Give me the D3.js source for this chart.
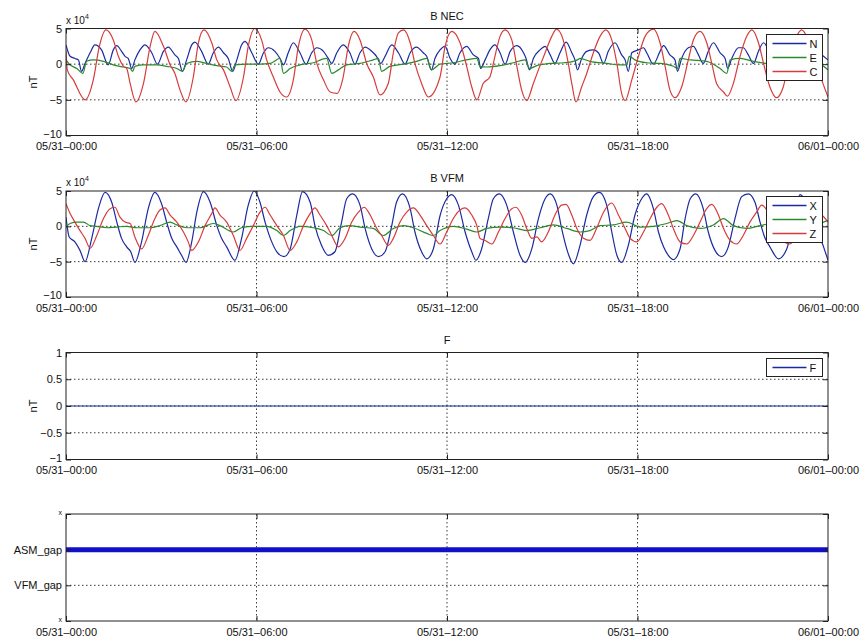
<!DOCTYPE html>
<html><head><meta charset="utf-8">
<script src="https://cdn.jsdelivr.net/npm/d3@7"></script>
<style>
body{margin:0;background:#fff}
svg text{font-family:"Liberation Sans",Arial,Helvetica,sans-serif;fill:#111}
</style></head><body>
<svg id="chart" width="864" height="639"></svg>
<script>
// Time axis: hours since 05/31 00:00
const timeTicks = [0, 6, 12, 18, 24];
const timeTickLabels = ["05/31\u201300:00", "05/31\u201306:00", "05/31\u201312:00", "05/31\u201318:00", "06/01\u201300:00"];

// Field axes (values in units of 10^4 nT)
const fieldTicks = [-10, -5, 0, 5];
const fieldTickLabels = ["\u221210", "\u22125", "0", "5"];
const fTicks = [-1, -0.5, 0, 0.5, 1];
const fTickLabels = ["\u22121", "\u22120.5", "0", "0.5", "1"];
const gapTicks = [0, 1, 2, 3];
const gapTickLabels = ["x", "VFM_gap", "ASM_gap", "x"];

const necNames = ["N", "E", "C"];
const vfmNames = ["X", "Y", "Z"];
const fNames = ["F"];

// B NEC, [hour, value x1e4 nT]
const necN = [[0,2.7],[0.13,1.1],[0.28,0.8],[0.39,0.6],[0.49,-1.0],[0.6,0.1],[0.76,1.6],[0.91,2.7],[1.12,2.0],[1.33,-0.1],[1.49,2.0],[1.6,2.6],[1.75,1.8],[1.86,1.1],[1.96,0.8],[2.07,-0.6],[2.17,0.6],[2.33,2.0],[2.49,2.7],[2.7,1.6],[2.88,0.0],[3.07,1.8],[3.22,2.4],[3.43,1.3],[3.54,0.8],[3.67,-1.0],[3.8,0.6],[3.96,2.7],[4.06,3.1],[4.27,1.8],[4.48,0.0],[4.64,1.6],[4.8,2.4],[4.96,1.6],[5.11,0.8],[5.25,-1.0],[5.38,0.6],[5.53,2.7],[5.64,3.2],[5.85,1.6],[6.06,0.0],[6.22,1.6],[6.37,2.3],[6.58,1.8],[6.74,0.8],[6.85,-0.1],[7.0,1.6],[7.16,3.0],[7.37,1.6],[7.56,0.0],[7.74,1.6],[7.9,2.3],[8.11,1.8],[8.26,0.8],[8.37,0.1],[8.53,1.6],[8.73,2.7],[8.94,1.6],[9.1,0.0],[9.26,1.6],[9.42,2.4],[9.63,1.8],[9.78,1.1],[9.91,0.1],[10.05,1.1],[10.26,2.7],[10.47,1.6],[10.68,0.0],[10.84,1.6],[11.04,2.4],[11.25,1.6],[11.36,1.1],[11.51,-0.8],[11.62,0.8],[11.78,2.0],[11.94,2.5],[12.1,0.8],[12.25,0.0],[12.41,1.6],[12.62,2.5],[12.83,1.3],[12.99,0.8],[13.06,-0.6],[13.2,0.6],[13.35,2.0],[13.51,2.7],[13.67,1.6],[13.83,0.0],[13.99,1.8],[14.2,2.6],[14.41,1.6],[14.49,0.8],[14.6,-0.8],[14.72,0.8],[14.93,2.0],[15.09,2.5],[15.25,1.3],[15.4,0.1],[15.56,1.6],[15.75,3.1],[15.93,1.6],[16.03,0.6],[16.11,-0.8],[16.24,0.8],[16.4,1.8],[16.61,2.0],[16.77,1.6],[16.93,0.1],[17.08,1.8],[17.29,3.0],[17.5,1.3],[17.61,0.6],[17.71,-1.0],[17.82,1.6],[18.03,2.0],[18.19,2.3],[18.29,1.6],[18.5,0.0],[18.71,1.8],[18.82,2.6],[19.02,1.3],[19.18,0.6],[19.26,-1.0],[19.39,0.8],[19.6,2.3],[19.76,2.5],[19.92,1.3],[20.07,0.1],[20.23,1.8],[20.39,3.0],[20.6,1.6],[20.76,0.8],[20.84,-0.6],[20.97,0.8],[21.18,2.3],[21.33,2.3],[21.49,1.3],[21.65,0.1],[21.81,1.8],[21.97,3.0],[22.17,1.6],[22.38,0.0],[22.59,1.8],[22.75,2.7],[22.96,1.3],[23.07,0.8],[23.17,-0.8],[23.33,1.1],[23.49,2.3],[23.65,2.0],[23.86,1.1],[24,0.6]];
const necE = [[0,0.6],[0.13,-0.1],[0.34,-0.6],[0.53,-1.3],[0.65,0.4],[0.86,0.6],[1.18,0.4],[1.49,-0.1],[1.81,-0.4],[2.02,-0.6],[2.1,-1.0],[2.17,-0.3],[2.44,-0.1],[2.86,-0.1],[3.17,-0.3],[3.49,-0.6],[3.67,-1.0],[3.8,0.1],[4.12,0.4],[4.43,0.1],[4.75,-0.2],[5.06,-0.4],[5.22,-1.0],[5.32,-0.1],[5.69,0.0],[6.11,0.0],[6.43,0.1],[6.74,0.8],[6.85,-1.3],[7.06,-0.6],[7.37,-0.1],[7.79,0.2],[8.21,0.8],[8.37,-1.3],[8.58,-0.8],[8.84,-0.1],[9.26,0.1],[9.68,0.6],[9.84,0.8],[9.94,-1.0],[10.2,-0.3],[10.63,0.0],[11.04,0.4],[11.36,0.8],[11.51,-0.8],[11.78,0.0],[12.2,0.2],[12.62,0.6],[12.94,0.8],[13.04,-0.3],[13.25,-0.4],[13.67,-0.2],[14.09,0.2],[14.46,0.6],[14.6,-0.6],[14.83,-0.2],[15.25,0.1],[15.67,0.2],[15.98,0.4],[16.11,0.6],[16.19,0.8],[16.5,0.4],[17.03,0.1],[17.45,-0.1],[17.66,-0.1],[17.74,1.1],[17.92,0.6],[18.29,0.2],[18.71,0.1],[19.13,-0.3],[19.26,-0.6],[19.34,0.8],[19.66,0.6],[20.18,0.4],[20.6,-0.6],[20.81,-1.3],[20.92,0.6],[21.23,0.8],[21.65,0.4],[22.02,0.1],[22.38,-0.2],[22.8,0.0],[23.22,0.4],[23.54,0.6],[23.86,-0.3],[24,-0.8]];
const necC = [[0,1.8],[0.04,-0.8],[0.23,-2.2],[0.6,-5.0],[0.86,-2.2],[1.05,2.5],[1.26,4.8],[1.49,3.4],[1.65,1.1],[1.81,-0.3],[1.91,-0.6],[2.02,-2.7],[2.2,-5.3],[2.44,-2.7],[2.65,2.5],[2.8,4.6],[3.07,2.5],[3.28,-0.1],[3.43,-1.3],[3.59,-3.6],[3.78,-5.3],[4.01,-1.8],[4.17,3.0],[4.35,4.8],[4.59,3.0],[4.75,0.6],[4.96,-0.8],[5.17,-3.2],[5.35,-5.1],[5.59,-1.8],[5.74,2.5],[5.95,5.0],[6.16,3.4],[6.32,0.6],[6.53,-1.8],[6.74,-3.9],[6.95,-4.6],[7.16,-2.2],[7.32,2.5],[7.53,4.9],[7.74,3.4],[7.9,0.1],[8.11,-2.2],[8.32,-3.9],[8.53,-4.1],[8.73,-1.8],[8.89,2.5],[9.07,4.6],[9.26,3.4],[9.47,0.1],[9.68,-1.8],[9.89,-4.3],[10.15,-2.7],[10.31,1.6],[10.47,4.4],[10.63,4.8],[10.84,3.0],[10.99,0.1],[11.2,-2.7],[11.41,-4.6],[11.78,-1.8],[11.94,2.5],[12.15,4.6],[12.41,3.0],[12.62,-0.3],[12.78,-3.2],[12.94,-5.0],[13.14,-2.7],[13.35,-1.8],[13.51,1.1],[13.67,3.9],[13.83,4.8],[14.04,3.4],[14.2,-0.3],[14.35,-3.6],[14.51,-5.1],[14.72,-2.7],[14.88,-0.8],[15.09,1.6],[15.3,3.9],[15.45,4.9],[15.66,3.4],[15.82,0.1],[15.93,-2.7],[16.06,-5.3],[16.24,-3.2],[16.4,-1.3],[16.61,1.6],[16.82,3.9],[17.0,4.8],[17.19,3.4],[17.35,0.1],[17.5,-4.1],[17.61,-5.1],[17.82,-2.2],[18.03,1.1],[18.24,3.9],[18.5,4.9],[18.71,3.0],[18.87,-0.3],[19.02,-3.6],[19.18,-4.7],[19.39,-3.2],[19.6,0.6],[19.76,3.4],[19.97,4.6],[20.18,3.0],[20.34,0.1],[20.49,-2.7],[20.71,-3.9],[20.83,-4.5],[21.02,-2.7],[21.23,1.1],[21.44,3.9],[21.6,4.8],[21.81,3.0],[21.97,0.1],[22.17,-3.2],[22.38,-4.7],[22.59,-3.2],[22.8,1.1],[23.01,3.9],[23.17,4.8],[23.38,3.4],[23.59,0.6],[23.8,-2.2],[24,-4.6]];

// B VFM, [hour, value x1e4 nT]
const vfmX = [[0,1.3],[0.1,-1.5],[0.28,-2.2],[0.44,-3.4],[0.6,-5.0],[0.81,-1.7],[1.02,2.5],[1.23,4.8],[1.44,3.4],[1.6,0.6],[1.75,-1.7],[1.91,-2.9],[2.04,-3.6],[2.17,-5.1],[2.38,-2.2],[2.59,2.5],[2.8,4.8],[3.01,3.2],[3.17,0.6],[3.33,-1.7],[3.49,-2.9],[3.64,-4.1],[3.78,-5.1],[3.96,-2.2],[4.12,2.0],[4.33,4.9],[4.54,3.4],[4.75,0.1],[4.9,-1.7],[5.06,-2.9],[5.32,-4.8],[5.53,-1.7],[5.74,3.0],[5.93,5.0],[6.11,3.4],[6.27,0.6],[6.48,-2.2],[6.64,-3.6],[6.87,-4.3],[7.06,-3.2],[7.27,1.6],[7.45,4.9],[7.69,3.4],[7.84,0.1],[8.05,-2.7],[8.26,-4.1],[8.47,-3.6],[8.68,0.6],[8.84,3.9],[9.03,4.6],[9.26,3.0],[9.42,-0.3],[9.63,-3.2],[9.84,-4.3],[10.05,-3.6],[10.26,0.1],[10.41,3.4],[10.6,4.6],[10.84,2.5],[10.99,-0.8],[11.2,-3.6],[11.36,-4.6],[11.57,-3.2],[11.78,1.5],[11.99,3.9],[12.15,4.5],[12.36,3.0],[12.57,-0.8],[12.78,-3.6],[12.91,-4.8],[13.09,-3.2],[13.3,1.1],[13.46,3.9],[13.65,4.6],[13.88,3.0],[14.09,-0.8],[14.3,-4.1],[14.46,-5.1],[14.67,-3.2],[14.88,1.1],[15.09,3.9],[15.25,4.6],[15.46,3.0],[15.61,-0.3],[15.82,-3.9],[15.98,-5.3],[16.19,-2.7],[16.4,1.6],[16.61,4.2],[16.8,4.8],[17.03,3.0],[17.19,-0.8],[17.35,-4.1],[17.5,-5.1],[17.71,-2.7],[17.92,1.6],[18.13,3.9],[18.29,4.6],[18.5,2.5],[18.66,-0.8],[18.82,-2.9],[18.97,-4.1],[19.13,-4.7],[19.34,-3.2],[19.5,1.1],[19.66,3.9],[19.84,4.6],[20.07,2.5],[20.23,-0.8],[20.44,-3.4],[20.65,-4.3],[20.86,-2.9],[21.07,1.1],[21.28,4.2],[21.49,4.6],[21.7,3.4],[21.86,0.6],[22.02,-1.7],[22.17,-2.9],[22.44,-4.6],[22.7,-3.2],[22.91,0.6],[23.12,4.5],[23.33,3.4],[23.65,-0.3],[23.86,-2.9],[24,-4.8]];
const vfmY = [[0,-0.1],[0.13,0.4],[0.34,0.6],[0.55,0.6],[0.76,0.1],[0.97,0.0],[1.28,-0.2],[1.6,-0.1],[1.91,0.0],[2.23,-0.2],[2.65,-0.2],[2.96,0.1],[3.28,0.6],[3.49,0.2],[3.8,-0.2],[4.22,-0.2],[4.64,0.4],[4.85,0.1],[5.27,-0.8],[5.53,-0.2],[5.9,0.0],[6.32,0.0],[6.64,-0.6],[6.85,-1.3],[7.06,-0.6],[7.37,0.0],[7.79,-0.2],[8.11,-0.6],[8.37,-1.3],[8.63,-0.2],[8.94,0.1],[9.26,-0.1],[9.68,-0.3],[9.99,-1.3],[10.31,-0.3],[10.63,0.1],[10.94,-0.2],[11.36,-1.0],[11.57,-1.3],[11.78,-0.6],[12.2,0.0],[12.62,-0.4],[12.94,-0.8],[13.25,-0.3],[13.67,-0.1],[14.09,-0.2],[14.51,-0.6],[14.93,-0.2],[15.35,0.2],[15.77,-0.3],[16.19,-0.8],[16.5,-0.6],[16.82,0.1],[17.24,0.2],[17.66,0.6],[18.08,-0.1],[18.5,0.0],[18.92,0.4],[19.24,0.8],[19.55,0.1],[19.97,-0.3],[20.39,0.2],[20.71,1.1],[21.02,0.1],[21.44,-0.3],[21.86,0.1],[22.28,0.4],[22.8,-0.1],[23.33,0.1],[23.86,0.6],[24,0.8]];
const vfmZ = [[0,3.2],[0.13,1.8],[0.28,0.6],[0.44,-0.6],[0.6,-1.7],[0.76,-3.1],[0.97,-1.3],[1.18,1.1],[1.39,2.5],[1.54,2.7],[1.7,1.3],[1.86,0.6],[2.02,0.4],[2.17,-1.5],[2.38,-3.2],[2.59,-1.3],[2.8,1.1],[2.96,2.3],[3.12,2.6],[3.28,1.6],[3.49,0.6],[3.7,-0.8],[3.85,-2.2],[3.96,-3.4],[4.17,-2.2],[4.38,0.1],[4.59,1.8],[4.69,2.6],[4.85,1.6],[5.06,0.6],[5.27,-1.3],[5.48,-3.4],[5.69,-1.7],[5.9,0.1],[6.11,2.0],[6.27,2.7],[6.43,1.6],[6.64,0.1],[6.85,-1.3],[7.06,-3.4],[7.27,-2.2],[7.48,0.1],[7.69,1.8],[7.84,2.6],[8.0,1.6],[8.21,0.1],[8.37,-1.3],[8.58,-2.9],[8.79,-1.7],[9.0,0.6],[9.21,2.0],[9.39,2.7],[9.58,1.6],[9.79,-0.3],[9.94,-1.3],[10.15,-2.7],[10.31,-1.7],[10.52,0.6],[10.73,2.0],[10.94,2.6],[11.15,1.6],[11.36,0.1],[11.57,-1.3],[11.78,-2.5],[11.99,-0.8],[12.2,1.1],[12.41,2.3],[12.57,2.6],[12.78,1.6],[12.94,0.1],[13.04,-1.7],[13.2,-2.0],[13.41,-2.5],[13.62,-0.8],[13.83,1.1],[14.04,2.5],[14.17,2.7],[14.35,1.6],[14.51,-0.3],[14.67,-1.7],[14.83,-1.5],[14.98,-2.2],[15.19,-0.8],[15.4,1.6],[15.61,3.0],[15.75,3.1],[15.93,1.6],[16.09,-0.3],[16.3,-1.7],[16.5,-2.0],[16.71,-0.3],[16.93,2.0],[17.19,3.3],[17.4,1.6],[17.61,-0.3],[17.77,-1.7],[17.98,-2.2],[18.19,-0.8],[18.4,1.1],[18.61,2.7],[18.76,3.2],[18.97,1.6],[19.13,-0.3],[19.34,-2.2],[19.55,-2.5],[19.76,-1.3],[19.97,0.6],[20.18,2.5],[20.34,3.1],[20.55,1.6],[20.71,-0.3],[20.92,-2.0],[21.12,-2.5],[21.33,-1.3],[21.54,0.6],[21.75,2.0],[21.91,3.0],[22.12,2.0],[22.33,0.1],[22.59,-2.0],[22.8,-2.5],[23.07,-0.8],[23.33,1.1],[23.54,2.0],[23.8,1.6],[24,0.6]];

// F residual and gap flags
const fSeries = [[0, 0], [24, 0]];
const asmGapSpan = [[0, 2], [24, 2]];

const lineColors = ["#1b2aa0", "#2a8a2a", "#d63c3c"];

const svg = d3.select("#chart");
const x = d3.scaleLinear().domain([0, 24]).range([66, 828]);
const W = 828 - 66;

function panel(cfg) {
  const y = d3.scaleLinear().domain(cfg.domain).range([cfg.bottom, cfg.top]);
  const g = svg.append("g");
  const H = cfg.bottom - cfg.top;
  const clipId = "clip" + cfg.id;
  svg.append("clipPath").attr("id", clipId).append("rect")
    .attr("x", 66).attr("y", cfg.top).attr("width", W).attr("height", H);

  // dotted grid at the inner ticks
  const grid = g.append("g").attr("stroke", "#222").attr("stroke-width", 0.9)
    .attr("stroke-dasharray", "1.5,2.5");
  timeTicks.filter(t => t > 0 && t < 24).forEach(t => {
    grid.append("line").attr("x1", x(t)).attr("x2", x(t)).attr("y1", cfg.top).attr("y2", cfg.bottom);
  });
  cfg.ticks.filter(v => v > cfg.domain[0] && v < cfg.domain[1]).forEach(v => {
    grid.append("line").attr("x1", 66).attr("x2", 828).attr("y1", y(v)).attr("y2", y(v));
  });

  // series
  const line = d3.line().x(d => x(d[0])).y(d => y(d[1])).curve(d3.curveMonotoneX);
  const lines = g.append("g").attr("clip-path", `url(#${clipId})`);
  cfg.series.forEach((s, i) => {
    lines.append("path").datum(s).attr("d", line).attr("fill", "none")
      .attr("stroke", cfg.colors[i]).attr("stroke-width", cfg.lineWidth || 1.2)
      .attr("stroke-linejoin", "round");
  });

  // axes with inward ticks on all four sides
  const axL = d3.axisLeft(y).tickValues(cfg.ticks).tickSize(-5).tickPadding(4)
    .tickFormat((d, i) => cfg.tickLabels[i]);
  const gl = g.append("g").attr("transform", "translate(66,0)").call(axL);
  const axR = d3.axisRight(y).tickValues(cfg.ticks).tickSize(-5).tickFormat("");
  g.append("g").attr("transform", "translate(828,0)").call(axR);
  const axB = d3.axisBottom(x).tickValues(timeTicks).tickSize(-5).tickPadding(7)
    .tickFormat((d, i) => timeTickLabels[i]);
  g.append("g").attr("transform", `translate(0,${cfg.bottom})`).call(axB);
  const axT = d3.axisTop(x).tickValues(timeTicks).tickSize(-5).tickFormat("");
  g.append("g").attr("transform", `translate(0,${cfg.top})`).call(axT);
  g.selectAll(".domain").remove();
  g.selectAll(".tick line").attr("stroke", "#222");
  g.selectAll(".tick text").attr("font-size", 11).attr("fill", "#111")
    .style("font-family", '"Liberation Sans",Arial,sans-serif');
  // lowest label sits a little higher so it clears the time labels
  gl.selectAll(".tick text").filter((d, i) => i === 0).attr("dy", "0.15em");
  if (cfg.smallEnds) {
    gl.selectAll(".tick text").filter((d, i) => i === 0 || i === cfg.ticks.length - 1)
      .attr("font-size", 7).attr("dy", "0.1em");
  }

  g.append("rect").attr("x", 66).attr("y", cfg.top).attr("width", W).attr("height", H)
    .attr("fill", "none").attr("stroke", "#222").attr("stroke-width", 1);

  if (cfg.title) {
    g.append("text").attr("x", 447).attr("y", cfg.top - 9).attr("text-anchor", "middle")
      .attr("font-size", 11).text(cfg.title);
  }
  if (cfg.ylabel) {
    g.append("text").attr("transform", `translate(37,${(cfg.top + cfg.bottom) / 2}) rotate(-90)`)
      .attr("text-anchor", "middle").attr("font-size", 11).text(cfg.ylabel);
  }
  if (cfg.exponent) {
    const t = g.append("text").attr("x", 66).attr("y", cfg.top - 5).attr("font-size", 10);
    t.append("tspan").text("x 10");
    t.append("tspan").attr("font-size", 7).attr("dy", -5).text(cfg.exponent);
  }
  if (cfg.legend) {
    const lg = g.append("g");
    const lx = 766.5, ly = Math.round(cfg.top + 5) + 0.5, lw = 56, rowH = 14;
    const lh = cfg.legend.length * rowH + 4;
    lg.append("rect").attr("x", lx).attr("y", ly).attr("width", lw).attr("height", lh)
      .attr("fill", "#fff").attr("stroke", "#222").attr("stroke-width", 1);
    cfg.legend.forEach((name, i) => {
      const yy = ly + 9 + i * rowH;
      lg.append("line").attr("x1", lx + 6).attr("x2", lx + 40).attr("y1", yy).attr("y2", yy)
        .style("stroke", cfg.colors[i]).style("stroke-width", 1.3);
      lg.append("text").attr("x", lx + 43).attr("y", yy + 4).attr("font-size", 11).text(name);
    });
  }
}

panel({ id: 1, top: 28.5, bottom: 135.5, domain: [-10, 5], ticks: fieldTicks, tickLabels: fieldTickLabels,
  series: [necN, necE, necC], colors: lineColors, title: "B NEC", ylabel: "nT", exponent: "4", legend: necNames });
panel({ id: 2, top: 191, bottom: 297, domain: [-10, 5], ticks: fieldTicks, tickLabels: fieldTickLabels,
  series: [vfmX, vfmY, vfmZ], colors: lineColors, title: "B VFM", ylabel: "nT", exponent: "4", legend: vfmNames });
panel({ id: 3, top: 352.5, bottom: 459.5, domain: [-1, 1], ticks: fTicks, tickLabels: fTickLabels,
  series: [fSeries], colors: [lineColors[0]], title: "F", ylabel: "nT", legend: fNames });
panel({ id: 4, top: 514, bottom: 621, domain: [0, 3], ticks: gapTicks, tickLabels: gapTickLabels,
  series: [asmGapSpan], colors: ["#1010c8"], lineWidth: 5, smallEnds: true });
</script>
</body></html>
